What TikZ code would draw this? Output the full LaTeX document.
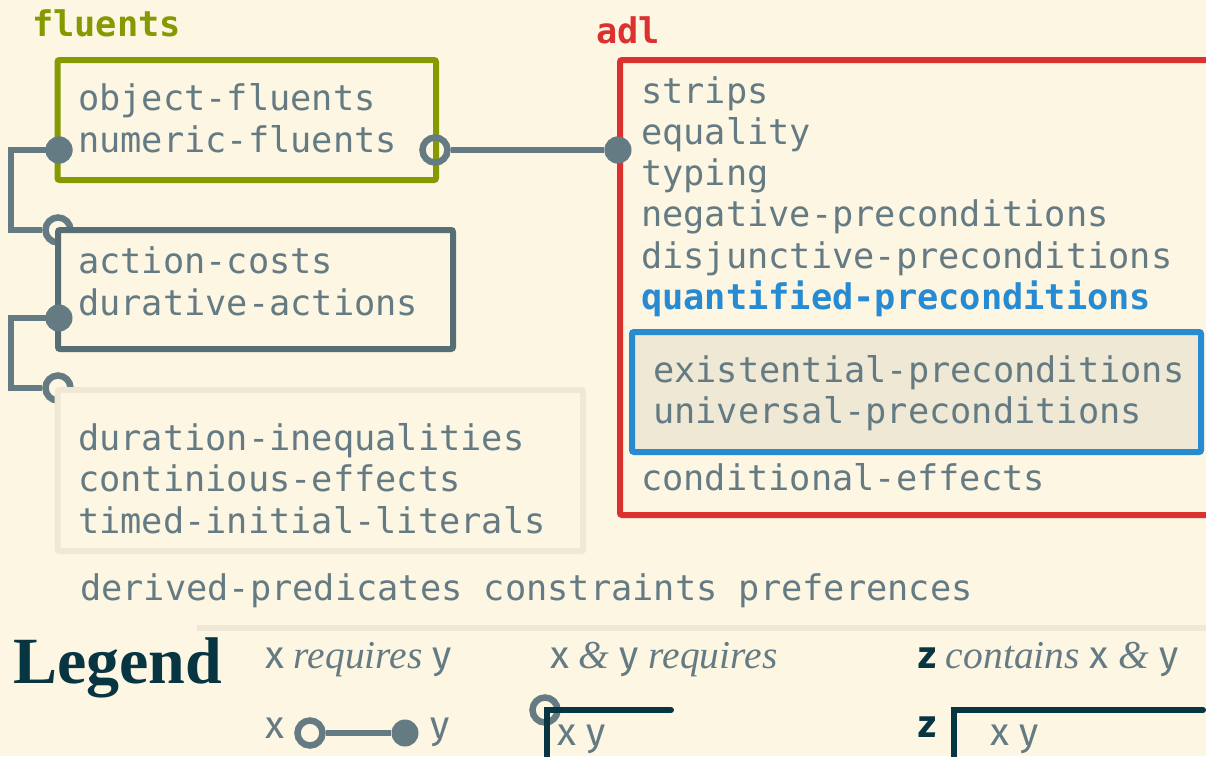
\documentclass[tikz,border=0pt]{standalone}
\usepackage{fontspec}
\setmainfont{Liberation Serif}
\setsansfont{Fira Sans}
\setmonofont{DejaVu Sans Mono}

\definecolor{paper}{HTML}{FDF6E3}
\definecolor{paperdark}{HTML}{EEE8D5}
\definecolor{ink}{HTML}{657B83}
\definecolor{inkdark}{HTML}{586E75}
\definecolor{night}{HTML}{073642}
\definecolor{sgreen}{HTML}{859900}
\definecolor{sred}{HTML}{DC322F}
\definecolor{sblue}{HTML}{268BD2}

\newcommand{\lx}[1]{{\sffamily\upshape\fontsize{39}{44}\selectfont #1}}

\tikzset{
  feat/.style={anchor=base west, inner sep=0pt, text=ink,
    font=\ttfamily\fontsize{35.3}{41.3}\selectfont},
  grouplabel/.style={feat, font=\ttfamily\bfseries\fontsize{35.3}{41.3}\selectfont},
  group/.style={draw, line width=6pt, rounded corners=2pt, fill=paper, inner sep=0pt},
  needs/.style={circle, fill=ink, inner sep=0pt, minimum size=27pt},
  needed/.style={circle, draw=ink, line width=6.5pt, inner sep=0pt, minimum size=25pt},
  link/.style={draw=ink, line width=6pt},
  corner/.style={draw=night, line width=6pt, line cap=round},
  legendtext/.style={anchor=base west, inner sep=0pt, text=ink,
    font=\itshape\fontsize{39.5}{44}\selectfont},
}

\begin{document}
\begin{tikzpicture}[x=1pt, y=-1pt]
  \useasboundingbox (0,0) rectangle (1206,756);
  \clip (0,0) rectangle (1206,756);
  \fill[paper] (0,0) rectangle (1206,756);

  % fluents
  \node[grouplabel, text=sgreen] (fluentslbl) at (32,36) {fluents};
  \node[group, draw=sgreen, minimum width=378.5pt, minimum height=120pt] (fluentsbox) at (246.75,120) {};
  \node[feat] (fl1) at (78,110) {object-fluents};
  \node[feat] (fl2) at (78,152) {numeric-fluents};

  % requires links
  \node[needed] (o1) at (435,150) {};
  \node[needed] (o2) at (58,230) {};
  \node[needed] (o3) at (58,388) {};
  \node[needs] (d1) at (59,150) {};
  \node[needs] (d2) at (59,318) {};
  \node[needs] (d3) at (618,150) {};
  \coordinate (k1) at (11,150);
  \coordinate (k2) at (11,318);
  \draw[link] (o1) -- (d3);
  \draw[link] (d1.center) -- (k1) |- (o2);
  \draw[link] (d2.center) -- (k2) |- (o3);

  % durative
  \node[group, draw=inkdark, minimum width=395pt, minimum height=119pt] (costsbox) at (255.5,289.5) {};
  \node[feat] (ac1) at (78,273) {action-costs};
  \node[feat] (ac2) at (78,315) {durative-actions};

  \node[group, draw=paperdark, minimum width=525.5pt, minimum height=161pt] (timebox) at (320.25,470.5) {};
  \foreach \txt [count=\i] in {duration-inequalities, continious-effects, timed-initial-literals}
    \node[feat] (tm\i) at (78,{450+41.5*(\i-1)}) {\txt};

  \node[feat] (rest) at (80,600) {derived-predicates constraints preferences};

  % adl
  \node[grouplabel, text=sred] (adllbl) at (596,43) {adl};
  \node[group, draw=sred, minimum width=595pt, minimum height=455pt] (adlbox) at (917.5,287.5) {};
  \foreach \txt [count=\i] in {strips, equality, typing, negative-preconditions, disjunctive-preconditions}
    \node[feat] (adl\i) at (641,{103+41.3*(\i-1)}) {\txt};
  \node[grouplabel, text=sblue] (quantlbl) at (641,309.5) {quantified-preconditions};
  \node[group, draw=sblue, fill=paperdark, minimum width=569pt, minimum height=120pt] (quantbox) at (916.5,392) {};
  \node[feat] (qt1) at (653,382) {existential-preconditions};
  \node[feat] (qt2) at (653,423) {universal-preconditions};
  \node[feat] (adl6) at (641,490) {conditional-effects};

  \node[needs] at (d1) {};
  \node[needs] at (d2) {};
  \node[needs] at (d3) {};

  % legend
  \coordinate (sepl) at (197,628);
  \coordinate (sepr) at (1215,628);
  \draw[line width=6pt, paperdark] (sepl) -- (sepr);
  \node[anchor=base west, inner sep=0pt, text=night, font=\bfseries\fontsize{66}{70}\selectfont] (legend) at (13,683) {Legend};

  \node[legendtext] (lg1) at (265,668) {\lx{x} requires \lx{y}};
  \node[legendtext] (lg2) at (550,668) {\lx{x} \& \lx{y} requires};
  \node[legendtext] (lg3) at (918,668) {\lx{\textcolor{night}{\bfseries z}} contains \lx{x} \& \lx{y}};

  \node[legendtext] (lx1) at (265,738) {\lx{x}};
  \node[needed] (lo) at (310,733) {};
  \node[needs] (ld) at (405,733) {};
  \draw[link] (lo) -- (ld);
  \node[legendtext] (ly1) at (430,738) {\lx{y}};

  \node[needed] (lo2) at (545,710) {};
  \coordinate (c2a) at (547,770);
  \coordinate (c2b) at (671,710);
  \draw[corner] (c2a) |- (c2b);
  \node[legendtext] (lxy2) at (557,745) {\lx{x y}};

  \node[legendtext] (lz) at (918,737) {\lx{\textcolor{night}{\bfseries z}}};
  \coordinate (c3a) at (954,770);
  \coordinate (c3b) at (1203,710);
  \draw[corner] (c3a) |- (c3b);
  \node[legendtext] (lxy3) at (990,745) {\lx{x y}};
\end{tikzpicture}
\end{document}
